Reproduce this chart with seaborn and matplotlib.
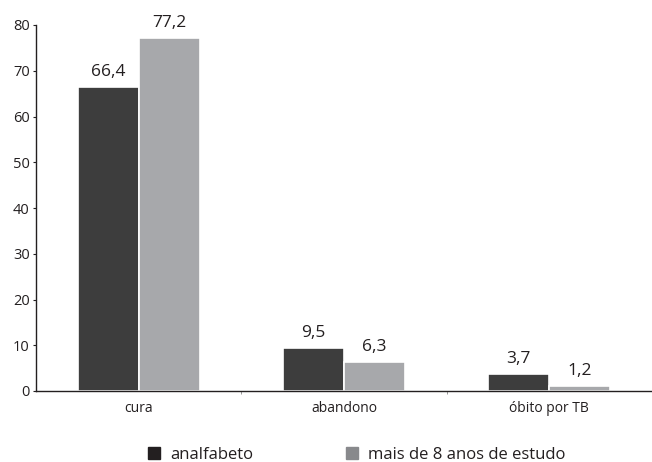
import matplotlib
matplotlib.use("Agg")
import matplotlib.pyplot as plt
import matplotlib.patches as mpatches
import seaborn as sns
import pandas as pd

categories = ["cura", "abandono", "óbito por TB"]
series_names = ["analfabeto", "mais de 8 anos de estudo"]
analfabeto = [66.4, 9.5, 3.7]
mais_8_anos = [77.2, 6.3, 1.2]
y_ticks = [0, 10, 20, 30, 40, 50, 60, 70, 80]

bar_colors = ["#3d3d3d", "#a7a8ab"]
legend_colors = ["#231f20", "#88898c"]

df = pd.DataFrame({
    "categoria": categories * 2,
    "grupo": [series_names[0]] * 3 + [series_names[1]] * 3,
    "valor": analfabeto + mais_8_anos,
})

sns.set_theme(style="white")
plt.rcParams["font.family"] = ["Open Sans", "DejaVu Sans"]

fig = plt.figure(figsize=(6.52, 4.62), dpi=100)
ax = fig.add_axes([36 / 652, 71 / 462, 616 / 652, 366 / 462])

sns.barplot(data=df, x="categoria", y="valor", hue="grupo", order=categories,
            hue_order=series_names, palette=bar_colors, width=0.595,
            saturation=1, ax=ax, legend=False, edgecolor="white", linewidth=1.2)

for cont in ax.containers:
    labels = [f"{v:.1f}".replace(".", ",") for v in cont.datavalues]
    ax.bar_label(cont, labels=labels, padding=5, fontsize=12.5, color="#231f20")

ax.set_xlim(-0.5, 2.5)
ax.set_ylim(0, 80)
ax.set_yticks(y_ticks)
ax.set_yticklabels([str(t) for t in y_ticks], fontsize=10.5, color="#231f20")
ax.tick_params(axis="y", length=2.5, width=0.8, color="#231f20", pad=2, left=True)
ax.tick_params(axis="x", length=0, pad=7, labelsize=10, labelcolor="#231f20")
ax.set_xticks([0.5, 1.5], minor=True)
ax.tick_params(axis="x", which="minor", length=2, width=0.6, color="#888888", bottom=True)
ax.set_xlabel("")
ax.set_ylabel("")

for side in ["top", "right"]:
    ax.spines[side].set_visible(False)
for side in ["left", "bottom"]:
    ax.spines[side].set_color("#231f20")
    ax.spines[side].set_linewidth(1.0)

handles = [mpatches.Patch(color=c, label=n) for c, n in zip(legend_colors, series_names)]
fig.legend(handles=handles, loc="center", bbox_to_anchor=(357 / 652, 7 / 462), ncol=2,
           frameon=False, fontsize=12, handlelength=0.72, handleheight=0.72,
           handletextpad=0.6, columnspacing=5.6, labelcolor="#231f20",
           borderpad=0, borderaxespad=0)

fig.savefig("out.png", dpi=100, facecolor="white")
